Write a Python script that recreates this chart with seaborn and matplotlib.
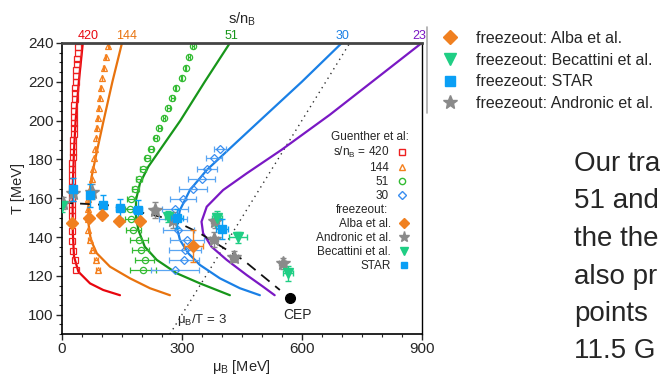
import numpy as np
import pandas as pd
import matplotlib.pyplot as plt
import seaborn as sns
from matplotlib.lines import Line2D
from matplotlib.ticker import MultipleLocator

sns.set_style("ticks")
plt.rcParams['font.family'] = ['Liberation Sans', 'DejaVu Sans']
plt.rcParams['mathtext.fontset'] = 'custom'
plt.rcParams['mathtext.rm'] = 'Liberation Sans'
plt.rcParams['mathtext.it'] = 'Liberation Sans:italic'

# --- isentropic trajectories s/n_B (mu_B, T) ---
snb_labels = ['420', '144', '51', '30', '23']
snb_label_mu = [65, 162, 425, 702, 895]
line_colors = ['#e8060e', '#e8730e', '#17961a', '#1a80e6', '#7a18c4']

traj_420_mu = [145, 103, 70, 41, 30, 27, 26.5, 27, 30, 34, 42, 52]
traj_420_T = [110, 112.7, 116.1, 122.1, 129.9, 141.9, 155, 167.7, 184.9, 200, 220, 240]
traj_144_mu = [270, 220, 170, 120, 87, 72, 66, 66, 74, 88, 104, 126, 150]
traj_144_T = [110, 113.6, 118.7, 124.7, 131.6, 138.5, 147.1, 159.1, 171.1, 184.9,
              200, 220, 240]
traj_51_mu = [420, 345, 287, 237, 207, 191, 185, 185, 195, 216, 245, 296, 357, 420]
traj_51_T = [110, 116.1, 121.3, 128.2, 135, 143.6, 150.5, 159.1, 167.7, 176.3,
             184.9, 200, 220, 240]
traj_30_mu = [495, 445, 395, 345, 316, 295, 287, 295, 320, 362, 416, 495, 600, 700]
traj_30_T = [110, 113.6, 118.7, 125.6, 131.6, 138.5, 145.3, 153.9, 164.2, 174.5,
             184.9, 200, 220, 240]
traj_23_mu = [532, 503, 462, 412, 374, 353, 349, 362, 403, 462, 549, 670, 900]
traj_23_T = [110, 114.4, 120.4, 128.2, 135, 141.9, 147.9, 155.6, 164.2, 172.8,
             184.9, 203, 240]

trajectories = [(traj_420_mu, traj_420_T), (traj_144_mu, traj_144_T),
                (traj_51_mu, traj_51_T), (traj_30_mu, traj_30_T),
                (traj_23_mu, traj_23_T)]

# --- Guenther et al. lattice points ---
guenther_T = [122.8, 128.0, 133.1, 138.5, 143.6, 149.1, 154.3, 159.4, 164.8,
              170.1, 175.2, 180.5, 185.5, 190.8, 196.0, 201.2, 206.3, 211.6,
              216.8, 222.1, 227.3, 232.6, 238.3]
g420_T = [123, 128, 133, 138, 143, 147, 151, 154, 157, 160, 163, 166, 169, 172,
          175, 178, 181, 184, 187, 190, 193, 196, 199, 202, 205, 208, 211, 214,
          217, 220, 223, 226, 229, 232, 235, 238]
g420_mu = [35, 32, 28, 26, 25, 24, 24, 24, 24, 24, 24, 24, 25, 25, 26, 26, 27,
           27, 28, 28, 29, 29, 30, 30, 31, 31, 32, 33, 33, 34, 35, 36, 37, 38,
           39, 40]
g144_mu = [90, 86, 76, 69, 66, 65, 65, 66, 70, 74, 77, 81, 83, 85, 87, 89, 92,
           94, 97, 100, 104, 109, 116]
g144_err = [6, 5, 4, 3, 2, 2, 2, 2, 1, 1, 1, 1, 1, 1, 1, 1, 1, 1, 1, 1, 1, 1, 1]
g51_mu = [203, 207, 197, 192, 178, 172, 170, 172, 183, 193, 203, 213, 222, 234,
          243, 255, 266, 276, 284, 299, 309, 318, 328]
g51_err = [32, 24, 21, 23, 19, 15, 12, 10, 9, 8, 7, 6, 5, 4, 4, 3, 3, 3, 2, 2,
           2, 2, 2]
g30_T = [122.8, 128.0, 133.1, 138.5, 143.6, 149.1, 154.3, 159.4, 164.8, 170.1,
         175.2, 180.5, 185.5]
g30_mu = [283, 305, 308, 312, 291, 277, 283, 302, 328, 349, 362, 380, 395]
g30_err = [60, 38, 40, 42, 38, 35, 33, 33, 35, 33, 25, 19, 15]

# --- freeze-out points ---
alba_mu = [24, 68, 99, 143, 195, 328]
alba_T = [147.0, 149.6, 151.3, 148.2, 148.2, 135.4]
alba_xerr = [0, 0, 0, 0, 0, 24]
alba_yerr = [0, 0, 0, 0, 0, 8.3]
star_mu = [28, 70, 103, 145, 189, 287, 401]
star_T = [164.6, 161.5, 156.5, 154.8, 153.9, 149.6, 144.1]
star_xerr = [3, 5, 8, 10, 12, 15, 15]
star_yerr = [6, 6, 5, 5, 5, 5, 5]
andronic_mu = [3, 28, 74, 233, 277, 383, 380, 430, 552]
andronic_T = [157.4, 162.5, 163.4, 153.9, 148.8, 148.4, 138.8, 129.9, 126.4]
andronic_xerr = [2, 4, 6, 8, 8, 10, 10, 10, 8]
andronic_yerr = [3, 4, 4, 4, 4, 4, 4, 3, 3]
becattini_mu = [1, 266, 387, 441, 566]
becattini_T = [156.0, 150.5, 149.6, 139.8, 121.3]
becattini_xerr = [2, 8, 12, 23, 12]
becattini_yerr = [3, 3, 4, 3, 4]

crossover_mu = [0, 112, 245, 303, 345, 453, 545]
crossover_T = [157.7, 156.5, 150.5, 146.2, 141.9, 128.2, 112.7]
cep_mu, cep_T = 570, 108.4
ratio_T = [90, 240]

c_alba, c_star, c_andr, c_beca = '#f08020', '#0a9ff5', '#8a8a8a', '#1fce84'
c_sq, c_tri, c_circ, c_dia = '#ee2020', '#f5801e', '#33bb33', '#3a8ef0'

fig, ax = plt.subplots(figsize=(6.6, 3.77), dpi=100)
fig.subplots_adjust(left=0.094, right=0.639, bottom=0.114, top=0.886)

# mu_B / T = 3 line and crossover line
ratio_mu = [3 * t for t in ratio_T]
ax.plot(ratio_mu, ratio_T, ls=(0, (1, 3)), color='#333333', lw=1)
ax.plot(crossover_mu, crossover_T, ls=(0, (6, 4)), color='#111111', lw=1.3, zorder=3)

for (mu, T), c in zip(trajectories, line_colors):
    df = pd.DataFrame({'mu': mu, 'T': T})
    sns.lineplot(data=df, x='mu', y='T', sort=False, estimator=None,
                 color=c, lw=1.6, ax=ax, zorder=2)

ax.plot(g420_mu, g420_T, ls='none', marker='s', ms=4, mfc='none', mec=c_sq,
        mew=0.9, zorder=4)
ax.errorbar(g144_mu, guenther_T, xerr=g144_err, fmt='^', ms=5, mfc='none',
            mec=c_tri, ecolor=c_tri, mew=0.9, elinewidth=0.9, capsize=2, zorder=4)
ax.errorbar(g51_mu, guenther_T, xerr=g51_err, fmt='o', ms=4.5, mfc='none',
            mec=c_circ, ecolor=c_circ, mew=0.9, elinewidth=0.9, capsize=2, zorder=4)
ax.errorbar(g30_mu, g30_T, xerr=g30_err, fmt='D', ms=4, mfc='none',
            mec=c_dia, ecolor='#5aa6f2', mew=0.9, elinewidth=0.9, capsize=2, zorder=4)

ax.errorbar(andronic_mu, andronic_T, xerr=andronic_xerr, yerr=andronic_yerr,
            fmt='*', ms=10, color=c_andr, elinewidth=1, capsize=2, zorder=5)
ax.errorbar(becattini_mu, becattini_T, xerr=becattini_xerr, yerr=becattini_yerr,
            fmt='v', ms=7, color=c_beca, elinewidth=1, capsize=2, zorder=5)
ax.errorbar(star_mu, star_T, xerr=star_xerr, yerr=star_yerr,
            fmt='s', ms=6, color=c_star, elinewidth=1, capsize=2, zorder=6)
ax.errorbar(alba_mu, alba_T, xerr=alba_xerr, yerr=alba_yerr,
            fmt='D', ms=6.5, color=c_alba, elinewidth=1, capsize=2, zorder=6)
ax.plot([cep_mu], [cep_T], 'o', color='black', ms=7, zorder=7)

ax.text(590, 99.8, 'CEP', fontsize=10, ha='center', va='center')
ax.text(288, 97.2, r'$\mathregular{\mu_B}$/T = 3', fontsize=9.5, ha='left', va='center')

ax.set_xlim(0, 900)
ax.set_ylim(90, 240)
ax.xaxis.set_major_locator(MultipleLocator(300))
ax.xaxis.set_minor_locator(MultipleLocator(50))
ax.yaxis.set_minor_locator(MultipleLocator(5))
ax.set_yticks([100, 120, 140, 160, 180, 200, 220, 240])
ax.tick_params(which='major', length=4, width=1, labelsize=11, pad=2)
ax.tick_params(which='minor', length=2.5, width=0.8)
ax.set_xlabel(r'$\mathregular{\mu_B}$ [MeV]', fontsize=10.5, labelpad=1)
ax.set_ylabel('T [MeV]', fontsize=10.5, labelpad=2)
for s in ['left', 'bottom', 'right']:
    ax.spines[s].set_color('black')
    ax.spines[s].set_linewidth(1.2)
ax.spines['right'].set_linewidth(1)
ax.spines['top'].set_visible(False)

# top axis with s/n_B values
ax2 = ax.twiny()
ax2.set_xlim(ax.get_xlim())
ax2.set_xticks(snb_label_mu)
ax2.set_xticklabels(snb_labels, fontsize=9)
for lab, c in zip(ax2.get_xticklabels(), line_colors):
    lab.set_color(c)
ax2.tick_params(length=0, pad=1)
ax2.set_xlabel(r's/n$_\mathregular{B}$', fontsize=10.5, labelpad=4)
for s in ['left', 'bottom', 'right']:
    ax2.spines[s].set_visible(False)
ax2.spines['top'].set_color('#444444')
ax2.spines['top'].set_linewidth(2)

# inner legends
h_g = [Line2D([], [], ls='none', marker='s', ms=4, mfc='none', mec=c_sq),
       Line2D([], [], ls='none', marker='^', ms=5, mfc='none', mec=c_tri),
       Line2D([], [], ls='none', marker='o', ms=4.5, mfc='none', mec=c_circ),
       Line2D([], [], ls='none', marker='D', ms=4, mfc='none', mec=c_dia)]
l_g = [r's/n$_\mathregular{B}$ = 420', '144', '51', '30']
h_f = [Line2D([], [], ls='none', marker='D', ms=5, color=c_alba),
       Line2D([], [], ls='none', marker='*', ms=8, color=c_andr),
       Line2D([], [], ls='none', marker='v', ms=5.5, color=c_beca),
       Line2D([], [], ls='none', marker='s', ms=4.5, color=c_star)]
l_f = ['Alba et al.', 'Andronic et al.', 'Becattini et al.', 'STAR']
leg_kw = dict(loc='upper right', frameon=False, markerfirst=False,
              fontsize=8.5, title_fontsize=8.5, handlelength=0.8,
              handletextpad=0.7, labelspacing=0.17, borderpad=0,
              borderaxespad=0)
leg1 = ax2.legend(h_g, l_g, title='Guenther et al:',
                  bbox_to_anchor=(0.964, 0.698), **leg_kw)
ax2.add_artist(leg1)
ax2.legend(h_f, l_f, title='freezeout:', bbox_to_anchor=(0.964, 0.447), **leg_kw)

# outer legend
h_out = [Line2D([], [], ls='none', marker='D', ms=7, color=c_alba),
         Line2D([], [], ls='none', marker='v', ms=8, color=c_beca),
         Line2D([], [], ls='none', marker='s', ms=6.5, color=c_star),
         Line2D([], [], ls='none', marker='*', ms=10, color=c_andr)]
l_out = ['freezeout: Alba et al.', 'freezeout: Becattini et al.',
         'freezeout: STAR', 'freezeout: Andronic et al.']
fig.legend(h_out, l_out, loc='upper left', bbox_to_anchor=(0.670, 0.918),
           frameon=False, fontsize=11.5, handlelength=1, handletextpad=1.1,
           labelspacing=0.42, borderpad=0, borderaxespad=0)
fig.add_artist(Line2D([427 / 660, 427 / 660], [1 - 27 / 377, 1 - 113 / 377],
                      color='#aaaaaa', lw=1.2))

# slide text at the right edge
slide_lines = ['Our tra', '51 and', 'the the', 'also pr', 'points', '11.5 G']
for i, t in enumerate(slide_lines):
    fig.text(574 / 660, 1 - (164 + 37.5 * i) / 377, t, fontsize=20,
             va='center', ha='left')

fig.savefig('out.png', dpi=100)
